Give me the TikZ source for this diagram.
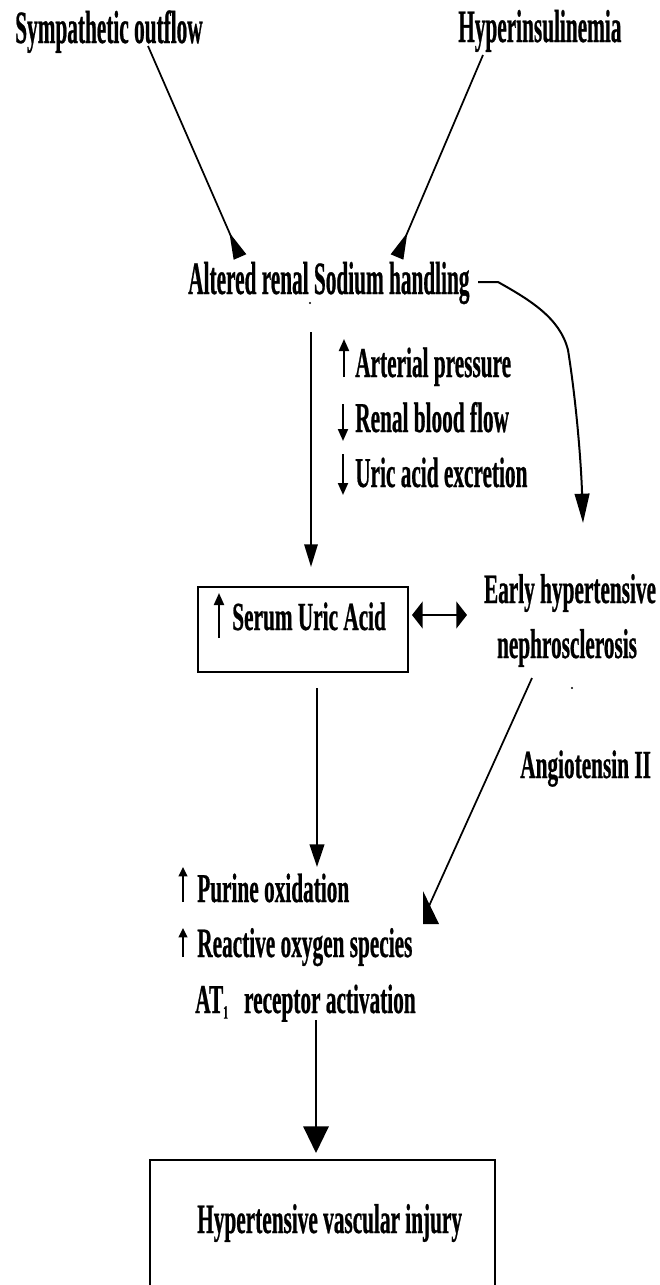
\documentclass[tikz,border=0pt]{standalone}
\usepackage{fontspec}
\usetikzlibrary{arrows.meta}
\newfontfamily\tnr[FakeStretch=0.56,FakeBold=0.6]{Liberation Serif}
\newcommand{\vs}[2]{\scalebox{1}[#1]{#2}}
\tikzset{
  lbl/.style={font=\tnr\bfseries\fontsize{28.5pt}{32pt}\selectfont, inner sep=0pt, anchor=base west},
  con/.style={line width=1.3pt},
  mainar/.style={line width=1.5pt, -{Triangle[width=10pt,length=17pt]}},
  box/.style={draw, line width=1.9pt, inner sep=0pt},
  txtar/.style={line width=1.5pt, -{Triangle[width=7.5pt,length=9pt]}},
  smallar/.style={line width=1.2pt, -{Triangle[width=6.5pt,length=7pt]}},
  revar/.style={con, -{Triangle[reversed,width=10pt,length=20pt]}},
}
\begin{document}
\begin{tikzpicture}[x=0.75pt,y=-0.75pt]
\useasboundingbox (0,0) rectangle (660,1285);
% text nodes
\node[lbl] (symp) at (15,43) {\vs{1.22}{Sympathetic outflow}};
\node[lbl] (hyper) at (458,42) {\vs{1.22}{Hyperinsulinemia}};
\node[lbl] (alt) at (188,294) {\vs{1.22}{Altered renal Sodium handling}};
\node[lbl] (art) at (355,377) {\vs{1.12}{Arterial pressure}};
\node[lbl] (ren) at (355,432) {\vs{1.12}{Renal blood flow}};
\node[lbl] (uric) at (355,487) {\vs{1.12}{Uric acid excretion}};
\node[box, minimum width=157.5pt, minimum height=63.75pt] (serumbox) at (303,629.5) {};
\node[lbl] (serum) at (232,630) {\vs{1.05}{Serum Uric Acid}};
\node[lbl, anchor=base] (early) at (570,603) {\vs{1.1}{Early hypertensive}};
\node[lbl, anchor=base] (nephro) at (567,658) {\vs{1.1}{nephrosclerosis}};
\node[lbl] (ang) at (520,778) {\vs{1.05}{Angiotensin II}};
\node[lbl] (pur) at (197,902) {\vs{1.08}{Purine oxidation}};
\node[lbl] (ros) at (197,957) {\vs{1.1}{Reactive oxygen species}};
\node[lbl] (at1) at (195,1013) {\vs{1.08}{AT\raisebox{-0.3ex}{\fontsize{13pt}{13pt}\selectfont 1}\hspace{12pt}receptor activation}};
\node[box, minimum width=258.75pt, minimum height=96pt] (hvibox) at (322.5,1224) {};
\node[lbl] (hvi) at (197,1233) {\vs{1.1}{Hypertensive vascular injury}};
% coordinates
\coordinate (s0) at (148,46);
\coordinate (s1) at (240,257);
\coordinate (h0) at (483,55);
\coordinate (h1) at (397,257);
\coordinate (a0) at (311,332);
\coordinate (a1) at (311,567);
\coordinate (d0) at (478,282);
\coordinate (d1) at (498,282);
\coordinate (d2) at (583,523);
\coordinate (x0) at (412,615);
\coordinate (x1) at (467,615);
\coordinate (b0) at (317,688);
\coordinate (b1) at (317,867);
\coordinate (g0) at (532,678);
\coordinate (g1) at (429,906);
\coordinate (r0) at (316,1020);
\coordinate (r1) at (316,1153);
% connectors
\draw[revar] (s0) -- (s1);
\draw[revar] (h0) -- (h1);
\draw[mainar] (a0) -- (a1);
\draw[line width=1.5pt, -{Triangle[width=11pt,length=22pt]}] (d0) -- (d1)
  .. controls (530,300) and (560,318) .. (568,350)
  .. controls (576,400) and (581,460) .. (d2);
\draw[line width=2pt, {Triangle[width=20pt,length=8pt]}-{Triangle[width=20pt,length=8pt]}] (x0) -- (x1);
\draw[line width=1.5pt, -{Triangle[width=11pt,length=17pt]}] (b0) -- (b1);
\draw[con] (g0) -- (g1);
\fill (423,891) -- (423,924) -- (439,924) -- cycle;
\draw[line width=1.6pt, -{Triangle[width=19pt,length=20pt]}] (r0) -- (r1);
% small arrows in text
\draw[txtar] (344,377) -- (344,339);
\draw[txtar] (343,404) -- (343,441);
\draw[txtar] (343,454) -- (343,495);
\draw[txtar] (219,638) -- (219,593);
\draw[smallar] (183,902) -- (183,867);
\draw[smallar] (183,957) -- (183,928);
% stray dots
\fill (310,303) circle (1.2);
\fill (572,688) circle (1.2);
\end{tikzpicture}
\end{document}
